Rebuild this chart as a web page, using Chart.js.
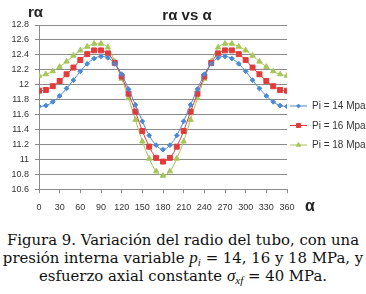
<!DOCTYPE html>
<html lang="es">
<head>
<meta charset="UTF-8">
<title>rα vs α</title>
<script src="https://cdn.jsdelivr.net/npm/chart.js@4.4.0/dist/chart.umd.min.js"></script>
<style>
  html, body { margin: 0; padding: 0; background: #fff; }
  #wrap { position: relative; width: 366px; height: 294px; overflow: hidden; }
  #chartBox { position: absolute; left: 0; top: 0; width: 366px; height: 224px; }
  .lbl { position: absolute; font-family: "Liberation Sans", Arial, sans-serif; font-weight: bold; color: #222; white-space: nowrap; }
  #title { left: 0; width: 374px; top: 6px; text-align: center; font-size: 15px; }
  #yTitle { left: 28px; top: 3px; font-size: 15px; }
  #xTitle { left: 305px; top: 197px; font-size: 16px; }
  #caption { position: absolute; left: 0; top: 231px; width: 366px; font-family: "DejaVu Serif", serif; font-size: 14.9px; line-height: 18px; color: #111; text-align: center; }
  #caption div { white-space: nowrap; }
  #caption i { font-family: "Liberation Serif", serif; font-size: 17px; }
  #caption sub { font-size: 11px; vertical-align: -3px; line-height: 0; }
</style>
</head>
<body>
<div id="wrap">
  <div id="chartBox"><canvas id="c" width="366" height="224"></canvas></div>
  <div class="lbl" id="title">rα vs α</div>
  <div class="lbl" id="yTitle">rα</div>
  <div class="lbl" id="xTitle">α</div>
  <div id="caption">
    <div>Figura 9. Variación del radio del tubo, con una</div>
    <div>presión interna variable <i>p<sub>i</sub></i> = 14, 16 y 18 MPa, y</div>
    <div>esfuerzo axial constante <i>σ<sub>xf</sub></i> = 40 MPa.</div>
  </div>
</div>
<script>
// ángulo α (grados), cada 10°
const alpha = [0, 10, 20, 30, 40, 50, 60, 70, 80, 90, 100, 110, 120, 130, 140, 150, 160, 170, 180,
  190, 200, 210, 220, 230, 240, 250, 260, 270, 280, 290, 300, 310, 320, 330, 340, 350, 360];

// radio rα para cada presión interna
const r14 = [11.71, 11.72, 11.77, 11.85, 11.95, 12.06, 12.18, 12.28, 12.35, 12.38, 12.36, 12.28, 12.14,
  11.94, 11.73, 11.51, 11.32, 11.19, 11.13, 11.19, 11.32, 11.51, 11.73, 11.94, 12.14, 12.28, 12.36,
  12.38, 12.35, 12.28, 12.18, 12.06, 11.95, 11.85, 11.77, 11.72, 11.71];
const r16 = [11.92, 11.93, 11.98, 12.05, 12.14, 12.23, 12.33, 12.41, 12.46, 12.46, 12.42, 12.29, 12.11,
  11.88, 11.64, 11.38, 11.17, 11.02, 10.97, 11.02, 11.17, 11.38, 11.64, 11.88, 12.11, 12.29, 12.42,
  12.46, 12.46, 12.41, 12.33, 12.23, 12.14, 12.05, 11.98, 11.93, 11.92];
const r18 = [12.12, 12.14, 12.18, 12.24, 12.31, 12.39, 12.46, 12.51, 12.55, 12.55, 12.50, 12.31, 12.08,
  11.82, 11.53, 11.24, 11.01, 10.84, 10.78, 10.84, 11.01, 11.24, 11.53, 11.82, 12.08, 12.31, 12.50,
  12.55, 12.55, 12.51, 12.46, 12.39, 12.31, 12.24, 12.18, 12.14, 12.12];

const seriesNames = ["Pi = 14 Mpa", "Pi = 16 Mpa", "Pi = 18 Mpa"];
const xTicks = [0, 30, 60, 90, 120, 150, 180, 210, 240, 270, 300, 330, 360];
const yMin = 10.6, yMax = 12.8, yStep = 0.2;

const colors = ["#4a8ad4", "#e23b3b", "#a6c657"];
const styles = ["rectRot", "rect", "triangle"];
const radii = [2.4, 3.5, 3.1];

const toPts = (ys) => ys.map((y, i) => ({ x: alpha[i], y }));

// leyenda a la derecha (línea + marcador + texto)
const sideLegend = {
  id: "sideLegend",
  afterDraw(chart) {
    const ctx = chart.ctx;
    const rows = [106, 125.5, 145];
    chart.data.datasets.forEach((ds, i) => {
      const y = rows[i];
      ctx.save();
      ctx.strokeStyle = ds.borderColor;
      ctx.lineWidth = 1;
      ctx.beginPath();
      ctx.moveTo(290, y);
      ctx.lineTo(307, y);
      ctx.stroke();
      ctx.fillStyle = ds.backgroundColor;
      ctx.strokeStyle = ds.borderColor;
      Chart.helpers.drawPoint(ctx, { pointStyle: ds.pointStyle, radius: ds.pointRadius * 0.8, borderWidth: 1 }, 298.5, y);
      ctx.fillStyle = "#333";
      ctx.font = "10px 'Liberation Sans', Arial, sans-serif";
      ctx.textBaseline = "middle";
      ctx.fillText(ds.label, 312, y + 0.5);
      ctx.restore();
    });
  }
};

new Chart(document.getElementById("c"), {
  type: "line",
  data: {
    datasets: [r14, r16, r18].map((ys, i) => ({
      label: seriesNames[i],
      data: toPts(ys),
      borderColor: colors[i],
      backgroundColor: colors[i],
      borderWidth: 1,
      pointStyle: styles[i],
      pointRadius: radii[i],
      pointBorderWidth: 1,
      tension: 0.35,
    }))
  },
  options: {
    responsive: false,
    animation: false,
    events: [],
    layout: { padding: { left: 4, right: 79, top: 25, bottom: 2 } },
    plugins: { legend: { display: false }, tooltip: { enabled: false } },
    scales: {
      x: {
        type: "linear",
        min: 0,
        max: 360,
        afterBuildTicks: (s) => { s.ticks = xTicks.map((v) => ({ value: v })); },
        ticks: { color: "#333", font: { family: "'Liberation Sans', Arial, sans-serif", size: 9 }, padding: 9, maxRotation: 0, autoSkip: false },
        grid: { drawOnChartArea: false, drawTicks: true, tickLength: 4, color: "#8a8a8a" },
        border: { color: "#8a8a8a" },
      },
      y: {
        min: yMin,
        max: yMax,
        afterFit: (s) => { s.width = 35; },
        ticks: {
          stepSize: yStep,
          color: "#333",
          font: { family: "'Liberation Sans', Arial, sans-serif", size: 9 },
          padding: 6,
          callback: (v) => String(+v.toFixed(1)),
        },
        grid: { color: "#8a8a8a", tickLength: 4 },
        border: { color: "#8a8a8a" },
      }
    }
  },
  plugins: [sideLegend]
});
</script>
</body>
</html>
